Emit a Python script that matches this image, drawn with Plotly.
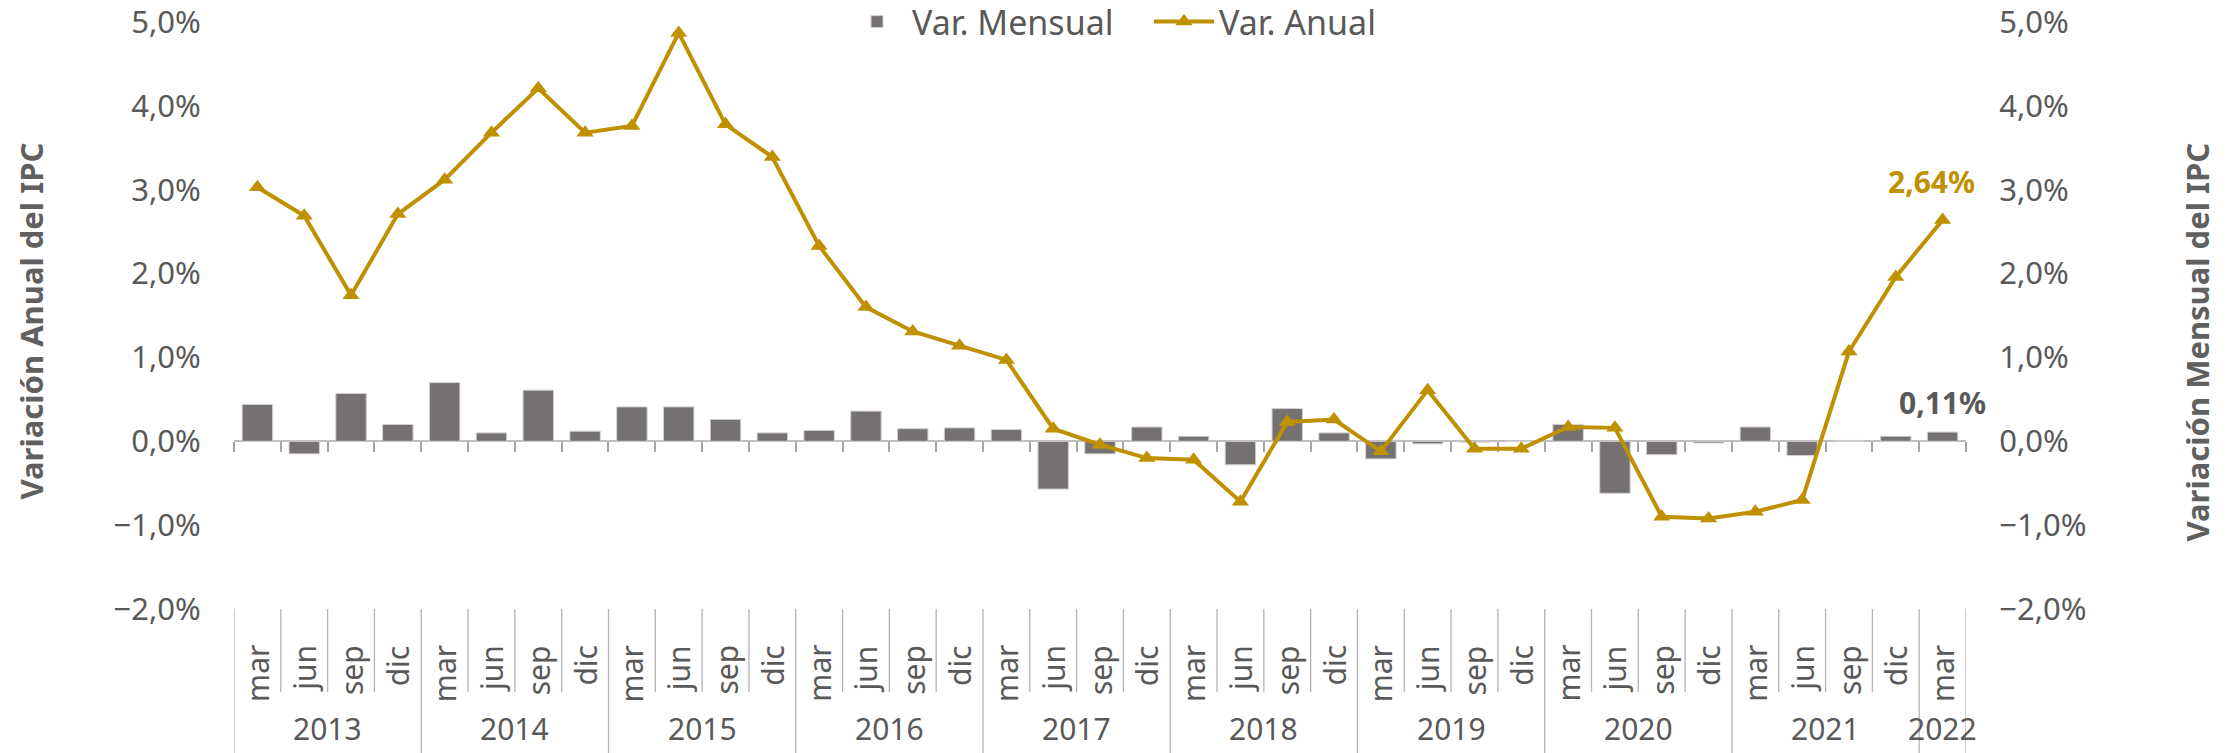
import plotly.graph_objects as go

# ---------------- data ----------------
years = ["2013", "2014", "2015", "2016", "2017", "2018", "2019", "2020", "2021", "2022"]
months = ["mar", "jun", "sep", "dic"]
month_labels = [m for y in years[:-1] for m in months] + ["mar"]
year_of_point = [y for y in years[:-1] for _ in months] + ["2022"]

var_mensual = [0.44, -0.15, 0.57, 0.20, 0.70, 0.10, 0.61, 0.12, 0.41, 0.41, 0.26, 0.10,
               0.13, 0.36, 0.15, 0.16, 0.14, -0.57, -0.15, 0.17, 0.06, -0.28, 0.39, 0.10,
               -0.21, -0.03, -0.01, 0.00, 0.20, -0.62, -0.16, -0.02, 0.17, -0.17, 0.01, 0.06,
               0.11]
var_anual = [3.03, 2.69, 1.74, 2.71, 3.12, 3.68, 4.21, 3.68, 3.76, 4.87, 3.78, 3.39,
             2.33, 1.60, 1.31, 1.14, 0.97, 0.15, -0.04, -0.20, -0.22, -0.72, 0.23, 0.26,
             -0.12, 0.61, -0.09, -0.09, 0.17, 0.16, -0.90, -0.92, -0.84, -0.70, 1.07, 1.96,
             2.64]

mensual = [v / 100 for v in var_mensual]
anual = [v / 100 for v in var_anual]
n = len(month_labels)
xs = list(range(n))

# ---------------- style ----------------
FONT = "Noto Sans"
GREY_TXT = "#595959"
BAR_C = "#767171"
LINE_C = "#BF9000"
SEP_C = "#b3b3b3"

W, H = 2239, 753
L, R, T, B = 234, 273, 22, 144
plot_h = H - T - B
base_y = H - B
ymin, ymax = -0.02, 0.05
zero_pos = (0 - ymin) / (ymax - ymin)

fig = go.Figure()
fig.add_trace(go.Bar(
    x=xs, y=mensual, name="Var. Mensual", yaxis="y",
    marker=dict(color=BAR_C, line=dict(color="#d0d0d0", width=1)),
))
fig.add_trace(go.Scatter(
    x=xs, y=anual, name="Var. Anual", yaxis="y2", mode="lines+markers",
    line=dict(color=LINE_C, width=4),
    marker=dict(symbol="triangle-up", size=15, color=LINE_C),
))

def pct(v):
    return f"{v*100:.2f}%".replace(".", ",")

annotations = []
# month labels
for i, m in enumerate(month_labels):
    annotations.append(dict(
        x=i, xref="x", y=0, yref="paper", yanchor="top", xanchor="center",
        yshift=-34, text=m, textangle=-90, showarrow=False,
        font=dict(family=FONT, size=30, color=GREY_TXT)))
# year labels
for y in years:
    idx = [i for i, yy in enumerate(year_of_point) if yy == y]
    annotations.append(dict(
        x=(idx[0] + idx[-1]) / 2, xref="x", y=0, yref="paper", yanchor="bottom",
        xanchor="center", yshift=-(751 - base_y), text=y, showarrow=False,
        font=dict(family=FONT, size=30, color=GREY_TXT)))
# axis titles
annotations.append(dict(
    x=0, xref="paper", xshift=30 - L, xanchor="center", y=1, yref="paper",
    yanchor="top", yshift=-(141 - T), text="<b>Variación Anual del IPC</b>",
    textangle=-90, showarrow=False, font=dict(family=FONT, size=31, color="#606060")))
annotations.append(dict(
    x=1, xref="paper", xshift=2196 - (W - R), xanchor="center", y=1, yref="paper",
    yanchor="top", yshift=-(141 - T), text="<b>Variación Mensual del IPC</b>",
    textangle=-90, showarrow=False, font=dict(family=FONT, size=31, color="#606060")))
# data labels
annotations.append(dict(
    x=xs[-1], xref="x", y=anual[-1], yref="y2", yshift=38, xshift=-11,
    text="<b>" + pct(anual[-1]) + "</b>", showarrow=False,
    font=dict(family=FONT, size=30, color=LINE_C)))
annotations.append(dict(
    x=xs[-1], xref="x", y=mensual[-1], yref="y", yshift=30,
    text="<b>" + pct(mensual[-1]) + "</b>", showarrow=False,
    font=dict(family=FONT, size=30, color=GREY_TXT)))

# category separators (multi-level axis)
shapes = []
month_bottom = -(692 - base_y) / plot_h
year_bottom = -(B + 5) / plot_h
for b in range(n + 1):
    is_year = (b % 4 == 0) or b == n
    shapes.append(dict(
        type="line", xref="x", yref="paper", x0=b - 0.5, x1=b - 0.5,
        y0=0, y1=year_bottom if is_year else month_bottom,
        line=dict(color=SEP_C, width=1.3)))

tickvals_y = [v / 100 for v in range(-2, 6)]
yax = dict(range=[ymin, ymax], tickvals=tickvals_y, tickformat=".1%",
           showgrid=False, zeroline=False, showline=False,
           ticks="outside", ticklen=26, tickcolor="rgba(0,0,0,0)",
           ticklabeloverflow="allow",
           tickfont=dict(family=FONT, size=31, color=GREY_TXT), automargin=False)

fig.update_layout(
    width=W, height=H,
    margin=dict(l=L, r=R, t=T, b=B, autoexpand=False),
    paper_bgcolor="white", plot_bgcolor="white",
    separators=",.",
    bargap=0.35,
    showlegend=True,
    legend=dict(orientation="h", x=(842 - L) / (W - L - R), xanchor="left",
                y=1.0, yanchor="middle",
                font=dict(family=FONT, size=34, color=GREY_TXT),
                bgcolor="rgba(0,0,0,0)", itemwidth=60, entrywidth=232,
                entrywidthmode="pixels", traceorder="normal"),
    xaxis=dict(range=[-0.5, n - 0.5], anchor="free", position=zero_pos,
               showgrid=False, zeroline=False, showline=True, linecolor="#bfbfbf",
               linewidth=2, ticks="outside", tickvals=[b - 0.5 for b in range(n + 1)],
               ticklen=10, tickcolor="#a6a6a6", tickwidth=1.5, showticklabels=False,
               layer="below traces"),
    yaxis=dict(side="right", **yax),
    yaxis2=dict(side="left", overlaying="y", **yax),
    annotations=annotations,
    shapes=shapes,
)

fig.write_html("out.html")
